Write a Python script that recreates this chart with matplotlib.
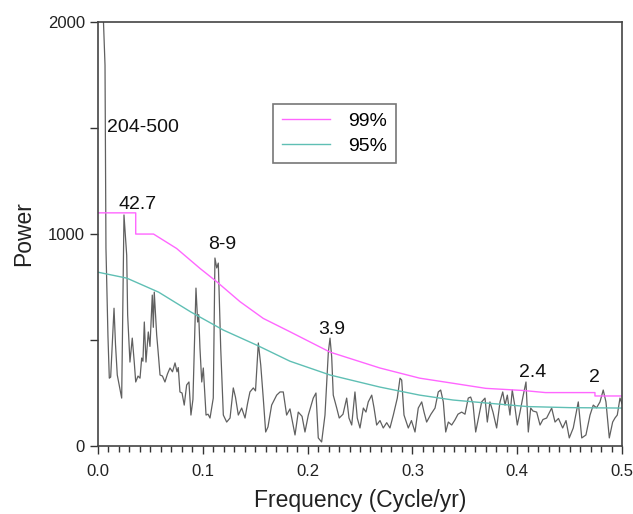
import matplotlib
matplotlib.use("Agg")
import matplotlib.pyplot as plt
from matplotlib.ticker import MultipleLocator, FixedLocator

plt.rcParams['font.family'] = ['Liberation Sans', 'DejaVu Sans']

freq = [0.0, 0.0038, 0.0067, 0.0076, 0.0095, 0.0108, 0.0121, 0.0153, 0.0167, 0.0184,
        0.0205, 0.0226, 0.0248, 0.026, 0.0274, 0.0283, 0.0305, 0.0327, 0.0346, 0.036,
        0.0382, 0.0401, 0.0417, 0.0429, 0.0442, 0.0458, 0.048, 0.0496, 0.0518, 0.0528,
        0.0537, 0.056, 0.0573, 0.0592, 0.0615, 0.0639, 0.0663, 0.0687, 0.0711, 0.0735,
        0.0754, 0.0766, 0.0782, 0.0802, 0.0823, 0.0846, 0.0868, 0.0887, 0.0906, 0.0935,
        0.0951, 0.0961, 0.0973, 0.099, 0.1005, 0.1031, 0.105, 0.1069, 0.11, 0.1116,
        0.1133, 0.1148, 0.1171, 0.1196, 0.1228, 0.126, 0.1291, 0.1312, 0.1339, 0.1371,
        0.1403, 0.1427, 0.145, 0.1482, 0.1503, 0.153, 0.1553, 0.1577, 0.16, 0.1622,
        0.1657, 0.1705, 0.1737, 0.1768, 0.18, 0.1832, 0.188, 0.1911, 0.1947, 0.1975,
        0.2007, 0.2054, 0.208, 0.2102, 0.2134, 0.2166, 0.2198, 0.2214, 0.223, 0.2245,
        0.2278, 0.2302, 0.2338, 0.2373, 0.2395, 0.2421, 0.2452, 0.2474, 0.25, 0.2532,
        0.2557, 0.2579, 0.2612, 0.2634, 0.2659, 0.2691, 0.2722, 0.2755, 0.2786, 0.2818,
        0.2856, 0.2882, 0.2898, 0.292, 0.2961, 0.2991, 0.3025, 0.3056, 0.3089, 0.3111,
        0.3136, 0.3177, 0.3216, 0.3247, 0.327, 0.3295, 0.3318, 0.3343, 0.3375, 0.3406,
        0.3435, 0.347, 0.3502, 0.3533, 0.3556, 0.3578, 0.3604, 0.363, 0.3661, 0.3693,
        0.3715, 0.374, 0.3769, 0.3804, 0.3836, 0.3862, 0.3884, 0.3906, 0.3931, 0.3953,
        0.3974, 0.4001, 0.4027, 0.4058, 0.4084, 0.4106, 0.4129, 0.4151, 0.4186, 0.4218,
        0.4246, 0.4281, 0.4329, 0.4361, 0.4394, 0.4434, 0.4466, 0.4497, 0.4535, 0.4583,
        0.4616, 0.4656, 0.4695, 0.4726, 0.4757, 0.479, 0.4821, 0.4847, 0.4879, 0.4911,
        0.4933, 0.4955, 0.4981, 0.5]
power = [2600, 2200, 1797, 934, 520, 320, 325, 650, 480, 335,
         280, 226, 1090, 1000, 900, 618, 396, 509, 396, 302,
         330, 320, 415, 400, 585, 396, 538, 470, 712, 560,
         726, 524, 450, 335, 330, 302, 340, 368, 350, 392,
         350, 370, 255, 250, 193, 288, 302, 146, 220, 745,
         585, 620, 462, 302, 368, 146, 150, 132, 226, 887,
         840, 863, 462, 146, 113, 132, 274, 230, 146, 179,
         132, 200, 255, 274, 260, 486, 382, 226, 66, 90,
         193, 240, 255, 255, 146, 175, 52, 160, 140, 66,
         146, 226, 250, 38, 19, 146, 443, 509, 420, 240,
         179, 132, 150, 226, 132, 99, 255, 132, 85, 179,
         160, 208, 240, 180, 99, 120, 85, 110, 85, 146,
         226, 320, 311, 146, 85, 120, 66, 179, 208, 160,
         113, 150, 179, 255, 264, 208, 66, 113, 99, 123,
         150, 160, 150, 226, 231, 200, 66, 130, 208, 226,
         113, 208, 160, 85, 208, 255, 193, 240, 146, 264,
         200, 99, 160, 240, 302, 66, 179, 165, 160, 99,
         125, 132, 179, 113, 130, 85, 120, 38, 85, 208,
         38, 52, 146, 193, 180, 208, 264, 208, 38, 113,
         132, 146, 226, 200]

f99 = [0.0, 0.036, 0.036, 0.053, 0.075, 0.0973, 0.1133, 0.1355, 0.1577, 0.1832,
       0.2214, 0.269, 0.307, 0.3387, 0.37, 0.4055, 0.427, 0.4742, 0.4742, 0.5]
p99 = [1100, 1100, 1000, 1000, 932, 838, 775, 681, 602, 539,
       443, 368, 320, 296, 272, 262, 252, 252, 236, 236]

f95 = [0.0, 0.0275, 0.0578, 0.0887, 0.1196, 0.1514, 0.1832, 0.2214, 0.269, 0.307,
       0.3387, 0.37, 0.41, 0.45, 0.5]
p95 = [820, 792, 726, 632, 547, 476, 400, 335, 278, 240,
       217, 203, 186, 181, 179]

labels = ["204-500", "42.7", "8-9", "3.9", "2.4", "2"]
label_x = [0.0086, 0.0191, 0.1050, 0.2106, 0.4013, 0.4690]
label_y = [1480, 1120, 930, 530, 325, 300]

fig = plt.figure(figsize=(6.33, 5.14), dpi=100)
ax = fig.add_axes([0.1548, 0.1323, 0.8278, 0.8247])

ax.plot(freq, power, color='#606060', lw=0.9)
ax.plot(f99, p99, color='#ff66ff', lw=1.0, label='99%')
ax.plot(f95, p95, color='#5fbfb4', lw=1.0, label='95%')

for t, x, y in zip(labels, label_x, label_y):
    ax.text(x, y, t, fontsize=14, color='#111111', ha='left', va='baseline')

ax.set_xlim(0, 0.5)
ax.set_ylim(0, 2000)
ax.xaxis.set_major_locator(MultipleLocator(0.1))
ax.xaxis.set_minor_locator(MultipleLocator(0.01))
ax.yaxis.set_major_locator(FixedLocator([0, 1000, 2000]))
ax.yaxis.set_minor_locator(FixedLocator([500, 1500]))
ax.xaxis.set_major_formatter(matplotlib.ticker.FormatStrFormatter('%.1f'))
ax.tick_params(axis='both', which='major', direction='out', length=6, width=1,
               labelsize=12, colors='#333333', labelcolor='#222222')
ax.tick_params(axis='x', which='major', pad=7)
ax.tick_params(axis='x', which='minor', direction='out', length=4, width=1, colors='#333333')
ax.tick_params(axis='y', which='minor', direction='out', length=6, width=1, colors='#333333')
for s in ax.spines.values():
    s.set_color('#444444')
    s.set_linewidth(1.2)

ax.set_xlabel('Frequency (Cycle/yr)', fontsize=16.5, color='#222222', labelpad=7)
ax.set_ylabel('Power', fontsize=16.5, color='#222222', labelpad=9)

leg = ax.legend(loc='upper left', bbox_to_anchor=(0.334, 0.807), borderaxespad=0,
                fontsize=14, frameon=True, fancybox=False, handlelength=2.5,
                handletextpad=0.9, borderpad=0.45, labelspacing=0.35)
leg.get_frame().set_edgecolor('#555555')
leg.get_frame().set_linewidth(1.2)

fig.savefig('out.png', dpi=100)
